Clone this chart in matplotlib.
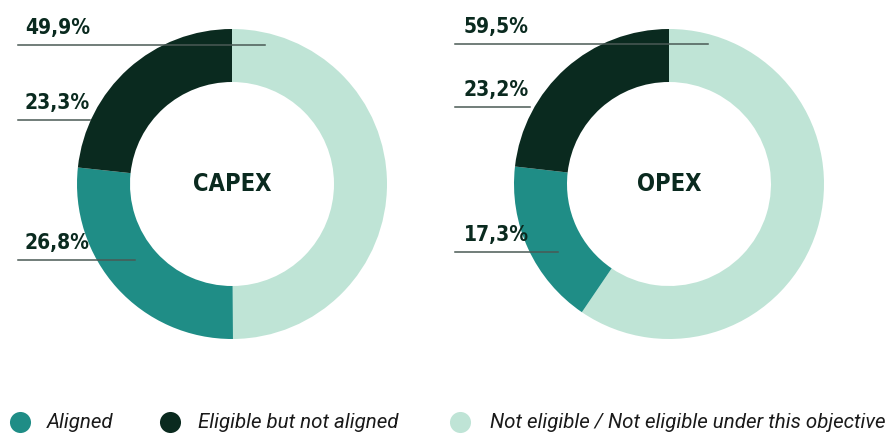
import matplotlib.pyplot as plt

# Данные
categories = ["Aligned", "Eligible but not aligned", "Not eligible / Not eligible under this objective"]
colors = ["#1f8d86", "#0a2a1f", "#bfe4d6"]

capex = [26.8, 23.3, 49.9]
opex = [17.3, 23.2, 59.5]
capex_labels = ["26,8%", "23,3%", "49,9%"]
opex_labels = ["17,3%", "23,2%", "59,5%"]

W, H = 895, 438
fig = plt.figure(figsize=(W / 100, H / 100), dpi=100)
ax = fig.add_axes([0, 0, 1, 1])

label_font = dict(family=["DejaVu Sans"], fontstretch="condensed", fontweight="bold",
                  color="#0a2a1f")


def donut(values, labels, title, cx, cy, label_x, line_x0, line_rows):
    # порядок по часовой стрелке от верха: не eligible, aligned, eligible
    order = [2, 0, 1]
    ax.pie([values[i] for i in order], colors=[colors[i] for i in order],
           startangle=90, counterclock=False, center=(cx, H - cy), radius=155,
           wedgeprops=dict(width=53, linewidth=0), frame=True)
    ax.text(cx, H - cy, title, ha="center", va="center", fontsize=17, **label_font)
    for (idx, ly, lx1) in line_rows:
        ax.plot([line_x0, lx1], [H - ly, H - ly], color="#4a5a55", lw=1.1, zorder=5)
        ax.text(label_x, H - ly + 11, labels[idx], ha="left", va="baseline",
                fontsize=15, **label_font)


donut(capex, capex_labels, "CAPEX", 232, 184, 25, 18,
      [(2, 45, 265), (1, 120, 90), (0, 260, 135)])
donut(opex, opex_labels, "OPEX", 669, 184, 464, 455,
      [(2, 44, 708), (1, 107, 530), (0, 252, 558)])

ax.set_xlim(0, W)
ax.set_ylim(0, H)
ax.set_aspect("equal")
ax.axis("off")

# Легенда
leg_y = H - 422
leg_x = [(20, 47), (170, 198), (460, 490)]
for i, (mx, tx) in enumerate(leg_x):
    ax.scatter([mx], [leg_y], s=230, color=colors[i], zorder=5, linewidths=0)
    ax.text(tx, leg_y, categories[i], ha="left", va="center", style="italic",
            family=["Roboto", "DejaVu Sans"], fontsize=14.8, color="#1a1a1a")

fig.savefig("out.png", dpi=100)
